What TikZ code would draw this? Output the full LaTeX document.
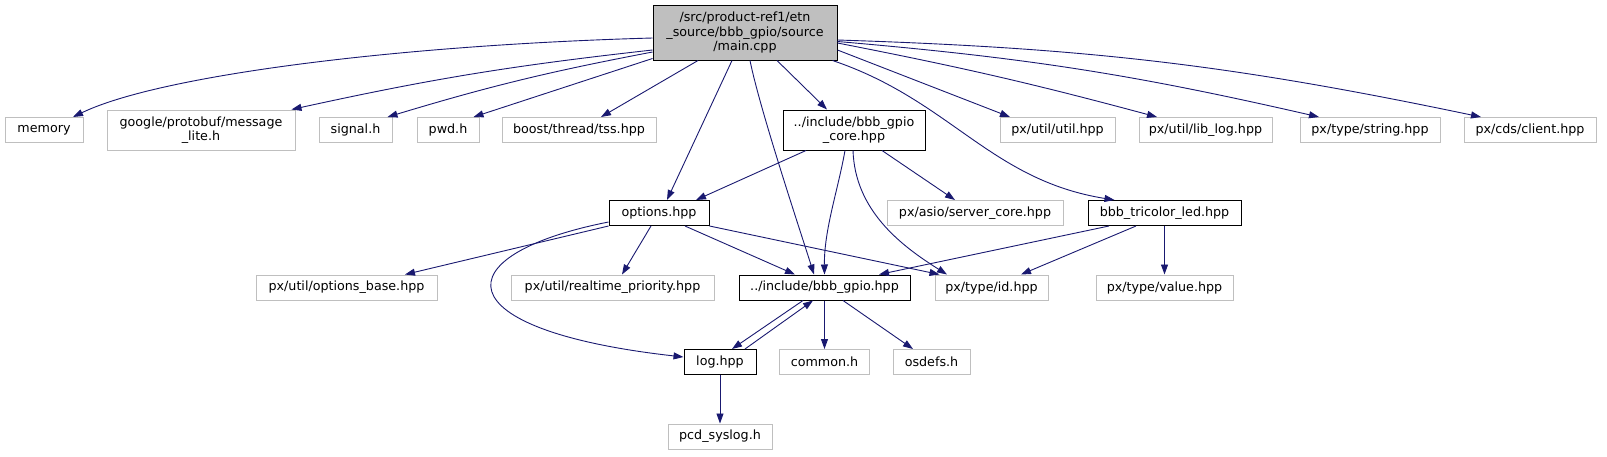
\documentclass[tikz,border=0pt]{standalone}
\usepackage{fontspec}
\setmainfont{DejaVu Sans}
\usetikzlibrary{arrows.meta}
\definecolor{dxEdge}{HTML}{191970}
\definecolor{dxGrey}{HTML}{BFBFBF}

\begin{document}
\begin{tikzpicture}[
    x=1pt, y=1pt, >={Triangle[length=10pt,width=7pt]},
    file/.style={rectangle, draw=dxGrey, line width=1pt, fill=white, minimum height=25pt, inner sep=2pt, align=center, font=\fontsize{12.7}{14.5}\selectfont},
    doc/.style={file, draw=black},
    root/.style={file, draw=black, fill=dxGrey},
    dep/.style={->, draw=dxEdge, line width=0.9pt},
  ]
  \useasboundingbox (0,0) rectangle (1607,-456);
  % top file
  \node[root, minimum width=184pt, minimum height=55pt] (main) at (745,-32.5) {/src/product-ref1/etn\\\_source/bbb\_gpio/source\\/main.cpp};
  % first row
  \node[file, minimum width=78pt] (memory) at (44,-130) {memory};
  \node[file, minimum width=188pt, minimum height=40pt] (msglite) at (201,-130) {google/protobuf/message\\\_lite.h};
  \node[file, minimum width=73pt] (signal) at (355.5,-130) {signal.h};
  \node[file, minimum width=62pt] (pwd) at (448,-130) {pwd.h};
  \node[file, minimum width=154pt] (tss) at (579,-130) {boost/thread/tss.hpp};
  \node[doc, minimum width=142pt, minimum height=40pt] (core) at (854,-130) {../include/bbb\_gpio\\\_core.hpp};
  \node[file, minimum width=115pt] (util) at (1057.5,-130) {px/util/util.hpp};
  \node[file, minimum width=133pt] (liblog) at (1205.5,-130) {px/util/lib\_log.hpp};
  \node[file, minimum width=140pt] (string) at (1370,-130) {px/type/string.hpp};
  \node[file, minimum width=132pt] (client) at (1530,-130) {px/cds/client.hpp};
  % second row
  \node[doc, minimum width=100pt] (options) at (659,-213) {options.hpp};
  \node[file, minimum width=176pt] (asio) at (975,-213) {px/asio/server\_core.hpp};
  \node[doc, minimum width=153pt] (tricolor) at (1164.5,-213) {bbb\_tricolor\_led.hpp};
  % third row
  \node[file, minimum width=181pt] (optbase) at (346.5,-287.5) {px/util/options\_base.hpp};
  \node[file, minimum width=203pt] (realtime) at (612.5,-287.5) {px/util/realtime\_priority.hpp};
  \node[doc, minimum width=171pt] (gpio) at (824.5,-287.5) {../include/bbb\_gpio.hpp};
  \node[file, minimum width=113pt] (id) at (991.5,-287.5) {px/type/id.hpp};
  \node[file, minimum width=137pt] (value) at (1164.5,-287.5) {px/type/value.hpp};
  % fourth and fifth row
  \node[doc, minimum width=72pt] (log) at (720,-362) {log.hpp};
  \node[file, minimum width=90pt] (common) at (824.5,-362) {common.h};
  \node[file, minimum width=77pt] (osdefs) at (931.5,-362) {osdefs.h};
  \node[file, minimum width=104pt] (syslog) at (720,-436.5) {pcd\_syslog.h};

  % includes of main.cpp
  \draw[dep] ([yshift=-5.5pt]main.west) .. controls (400,-45) and (160,-75) .. ([xshift=29pt]memory.north);
  \draw[dep] ([yshift=-17.5pt]main.west) to[bend right=3] ([xshift=-4pt]msglite.north east);
  \draw[dep] ([yshift=-19.5pt]main.west) to[bend right=3] ([xshift=-5pt]signal.north east);
  \draw[dep] ([yshift=2pt]main.south west) -- ([xshift=-6pt]pwd.north east);
  \draw[dep] ([xshift=-47pt]main.south) -- ([xshift=22pt]tss.north);
  \draw[dep] ([xshift=-13pt]main.south) -- ([xshift=8pt]options.north);
  \draw[dep] ([xshift=5pt]main.south) .. controls (760,-110) and (800,-230) .. ([xshift=-10.5pt]gpio.north);
  \draw[dep] ([xshift=32pt]main.south) -- ([xshift=-27pt]core.north);
  \draw[dep] ([xshift=-5pt]main.south east) .. controls (950,-100) and (990,-180) .. ([xshift=-50pt]tricolor.north);
  \draw[dep] ([yshift=-17.5pt]main.east) -- ([xshift=-47.5pt]util.north);
  \draw[dep] ([yshift=-10.5pt]main.east) to[bend left=2] ([xshift=-48.5pt]liblog.north);
  \draw[dep] ([yshift=-9pt]main.east) to[bend left=4] ([xshift=-51pt]string.north);
  \draw[dep] ([yshift=-7.5pt]main.east) to[bend left=5] ([xshift=-49pt]client.north);

  % bbb_gpio_core.hpp
  \draw[dep] ([xshift=-48pt]core.south) -- ([xshift=37pt]options.north);
  \draw[dep] ([xshift=-9pt]core.south) .. controls (838,-190) and (824,-230) .. (gpio.north);
  \draw[dep] ([xshift=-1pt]core.south) .. controls (855,-210) and (900,-245) .. ([xshift=-44.5pt]id.north);
  \draw[dep] ([xshift=28pt]core.south) -- ([xshift=-20pt]asio.north);

  % options.hpp
  \draw[dep] (options.south west) -- ([xshift=58.5pt]optbase.north);
  \draw[dep] ([xshift=-8pt]options.south) -- ([xshift=9.5pt]realtime.north);
  \draw[dep] ([xshift=26pt]options.south) -- ([xshift=-29.5pt]gpio.north);
  \draw[dep] (options.south east) -- ([xshift=-52pt]id.north);
  \draw[dep] ([yshift=-9pt]options.west) .. controls (442,-255) and (442,-330) .. ([yshift=5pt]log.west);

  % bbb_tricolor_led.hpp
  \draw[dep] ([xshift=-55.5pt]tricolor.south) -- ([xshift=54.5pt]gpio.north);
  \draw[dep] ([xshift=-28.5pt]tricolor.south) -- ([xshift=29.5pt]id.north);
  \draw[dep] (tricolor.south) -- (value.north);

  % bbb_gpio.hpp and log.hpp
  \draw[dep] (gpio.south) -- (common.north);
  \draw[dep] ([xshift=18.5pt]gpio.south) -- ([xshift=-18.5pt]osdefs.north);
  \draw[dep] ([xshift=-21.5pt]gpio.south) -- ([xshift=12pt]log.north);
  \draw[dep] ([xshift=25pt]log.north) -- ([xshift=-11.5pt]gpio.south);
  \draw[dep] (log.south) -- (syslog.north);
\end{tikzpicture}
\end{document}
